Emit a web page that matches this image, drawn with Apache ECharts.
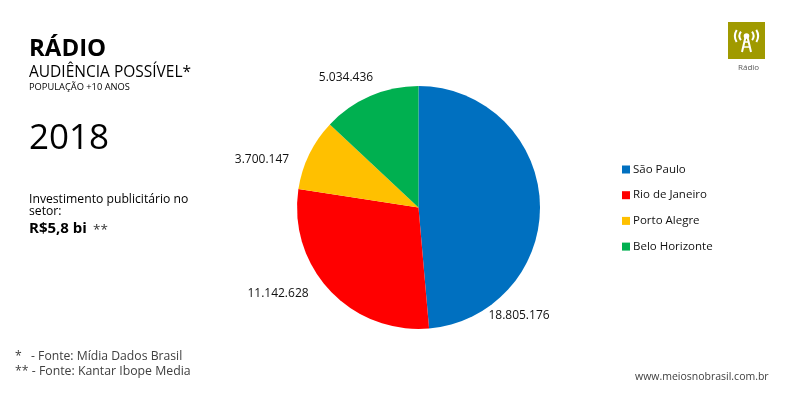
<!DOCTYPE html>
<html>
<head>
<meta charset="utf-8">
<style>
html, body { margin: 0; padding: 0; background: #fff; }
#chart { width: 786px; height: 396px; }
</style>
<script src="https://cdn.jsdelivr.net/npm/echarts@6/dist/echarts.min.js"></script>
</head>
<body>
<div id="chart"></div>
<script>
var cities = ['São Paulo', 'Rio de Janeiro', 'Porto Alegre', 'Belo Horizonte'];
var audience = [18805176, 11142628, 3700147, 5034436];
var colors = ['#0070c0', '#ff0000', '#ffc000', '#00b050'];
// centro de cada rotulo, em pixels
var labelX = [519, 278, 262, 346];
var labelY = [316, 294, 160, 78];

var font = '"Open Sans", sans-serif';

function fmt(v) {
  return String(v).replace(/\B(?=(\d{3})+$)/g, '.');
}

// textos fixos da esquerda e rodape
function txt(x, y, text, size, weight, color) {
  return {
    type: 'text', x: x, y: y, silent: true,
    style: { text: text, fontFamily: font, fontSize: size, fontWeight: weight || 'normal', fill: color || '#000', textVerticalAlign: 'middle' }
  };
}

function arc(r, a, b) {
  return { type: 'arc', shape: { cx: 746.5, cy: 36, r: r, startAngle: a, endAngle: b }, style: { stroke: '#fff', lineWidth: 2, fill: null }, silent: true };
}

var myChart = echarts.init(document.getElementById('chart'));
var option = {
  animation: false,
  backgroundColor: '#fff',
  color: colors,
  legend: {
    orient: 'vertical',
    left: 617,
    top: 157,
    itemWidth: 8,
    itemHeight: 8,
    itemGap: 10.7,
    icon: 'rect',
    data: cities,
    textStyle: { fontFamily: font, fontSize: 11.5, color: '#111', padding: [0, 0, 0, -2], lineHeight: 15 }
  },
  series: [
    {
      type: 'pie',
      center: [418.5, 207.5],
      radius: [0, 121.5],
      startAngle: 90,
      clockwise: true,
      data: cities.map(function(c, i) {
        return { name: c, value: audience[i] };
      }),
      label: {
        show: true,
        position: 'outside',
        formatter: function(p) { return fmt(p.value); },
        fontFamily: font,
        fontSize: 12,
        color: '#111'
      },
      labelLine: { show: false },
      labelLayout: function(p) {
        return { x: labelX[p.dataIndex], y: labelY[p.dataIndex], align: 'center', verticalAlign: 'middle' };
      },
      itemStyle: { borderWidth: 0 },
      emphasis: { disabled: true }
    }
  ],
  graphic: [
    txt(29, 49, 'RÁDIO', 24, 'bold'),
    txt(29, 73, 'AUDIÊNCIA POSSÍVEL*', 15.5),
    txt(29, 87.5, 'POPULAÇÃO +10 ANOS', 9.3),
    txt(29, 139, '2018', 35),
    txt(29, 200, 'Investimento publicitário no', 12.2),
    txt(29, 212, 'setor:', 12.2),
    txt(29, 229, 'R$5,8 bi', 15, 'bold'),
    txt(93, 230, '**', 13.5, 'normal', '#333'),
    txt(15, 357, '*', 12.2, 'normal', '#404040'),
    txt(31, 357, '- Fonte: Mídia Dados Brasil', 12.2, 'normal', '#404040'),
    txt(15, 371, '** - Fonte: Kantar Ibope Media', 12.3, 'normal', '#404040'),
    txt(635, 377, 'www.meiosnobrasil.com.br', 10.5, 'normal', '#404040'),
    txt(738, 68, 'Rádio', 8, 'normal', '#595959'),
    // icone da antena
    { type: 'rect', shape: { x: 728, y: 22, width: 37, height: 37 }, style: { fill: '#a09a00' }, silent: true },
    { type: 'polyline', shape: { points: [[742, 52], [745.5, 37], [747.5, 37], [751, 52]] }, style: { stroke: '#fff', lineWidth: 2, fill: null }, silent: true },
    { type: 'line', shape: { x1: 743, y1: 47, x2: 750, y2: 47 }, style: { stroke: '#fff', lineWidth: 1.5 }, silent: true },
    { type: 'line', shape: { x1: 744, y1: 42, x2: 749, y2: 42 }, style: { stroke: '#fff', lineWidth: 1.5 }, silent: true },
    { type: 'circle', shape: { cx: 746.5, cy: 36, r: 2.8 }, style: { fill: '#fff' }, silent: true },
    arc(7, 2.5, 3.8),
    arc(7, -0.66, 0.64),
    arc(11.5, 2.6, 3.7),
    arc(11.5, -0.56, 0.54)
  ]
};
myChart.setOption(option);
</script>
</body>
</html>
